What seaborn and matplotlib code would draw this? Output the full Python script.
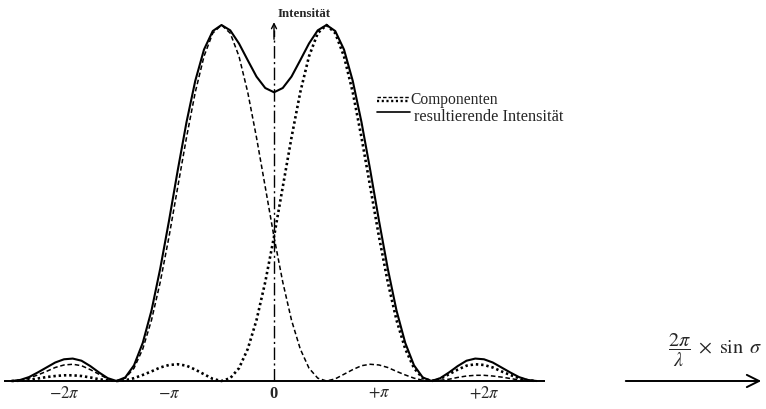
import numpy as np
import matplotlib
matplotlib.use("Agg")
import matplotlib.pyplot as plt
import seaborn as sns
from matplotlib.lines import Line2D

x_twelfths_pi = list(range(-30, 31))

comp_left = [0.000, 0.002, 0.008, 0.017, 0.027, 0.038, 0.045, 0.047, 0.043, 0.032,
             0.019, 0.006, 0.000, 0.008, 0.036, 0.090, 0.171, 0.278, 0.405, 0.545,
             0.684, 0.811, 0.912, 0.977, 1.000, 0.977, 0.912, 0.811, 0.684, 0.545,
             0.405, 0.278, 0.171, 0.090, 0.036, 0.008, 0.000, 0.006, 0.019, 0.032,
             0.043, 0.047, 0.045, 0.038, 0.027, 0.017, 0.008, 0.002, 0.000, 0.002,
             0.005, 0.010, 0.014, 0.016, 0.016, 0.014, 0.011, 0.007, 0.003, 0.001,
             0.000]

comp_right = [0.000, 0.001, 0.003, 0.007, 0.011, 0.014, 0.016, 0.016, 0.014, 0.010,
              0.005, 0.002, 0.000, 0.002, 0.008, 0.017, 0.027, 0.038, 0.045, 0.047,
              0.043, 0.032, 0.019, 0.006, 0.000, 0.008, 0.036, 0.090, 0.171, 0.278,
              0.405, 0.545, 0.684, 0.811, 0.912, 0.977, 1.000, 0.977, 0.912, 0.811,
              0.684, 0.545, 0.405, 0.278, 0.171, 0.090, 0.036, 0.008, 0.000, 0.006,
              0.019, 0.032, 0.043, 0.047, 0.045, 0.038, 0.027, 0.017, 0.008, 0.002,
              0.000]

resultant = [0.000, 0.003, 0.011, 0.024, 0.038, 0.052, 0.061, 0.063, 0.057, 0.042,
             0.024, 0.008, 0.000, 0.010, 0.044, 0.107, 0.198, 0.316, 0.450, 0.592,
             0.727, 0.843, 0.931, 0.983, 1.000, 0.985, 0.948, 0.901, 0.855, 0.823,
             0.811, 0.823, 0.855, 0.901, 0.948, 0.985, 1.000, 0.983, 0.931, 0.843,
             0.727, 0.592, 0.450, 0.316, 0.198, 0.107, 0.044, 0.010, 0.000, 0.008,
             0.024, 0.042, 0.057, 0.063, 0.061, 0.052, 0.038, 0.024, 0.011, 0.003,
             0.000]

tick_multiples = [-2, -1, 0, 1, 2]
tick_labels = [r"$-2\pi$", r"$-\pi$", "0", r"$+\pi$", r"$+2\pi$"]

# ---- style ----
sns.set_theme(style="white")
plt.rcParams["font.family"] = ["Liberation Serif", "DejaVu Serif"]
plt.rcParams["mathtext.fontset"] = "stix"

W, H = 766, 410
X0, PX_PI = 274.0, 105.0      # pixel of x=0, pixels per pi
Y0, PX_UNIT = 382.0, 356.0    # pixel of intensity 0, pixels per unit intensity

fig = plt.figure(figsize=(W / 100, H / 100), dpi=100)
ax = fig.add_axes([0, 0, 1, 1])
ax.set_xlim((0 - X0) / PX_PI * np.pi, (W - X0) / PX_PI * np.pi)
ax.set_ylim((Y0 - H) / PX_UNIT, Y0 / PX_UNIT)
ax.axis("off")

x = np.array(x_twelfths_pi) * np.pi / 12

sns.lineplot(x=x, y=comp_left, ax=ax, color="black", lw=1.1,
             linestyle=(0, (3, 1.8)), legend=False)
sns.lineplot(x=x, y=comp_right, ax=ax, color="black", lw=1.9,
             linestyle=(0, (0.9, 1.1)), legend=False)
sns.lineplot(x=x, y=resultant, ax=ax, color="black", lw=1.5, legend=False)

# baseline
ax.plot([-2.57 * np.pi, 2.58 * np.pi], [0, 0], color="black", lw=1.4,
        solid_capstyle="butt")

# vertical axis (dash-dot) with arrow
ax.plot([0, 0], [0, 0.985], color="black", lw=1.0, linestyle=(0, (9, 2.5, 1.5, 2.5)))
ax.annotate("", xy=(0, 1.008), xytext=(0, 0.96),
            arrowprops=dict(arrowstyle="->", lw=1.0, color="black",
                            mutation_scale=9, shrinkA=0, shrinkB=0))
ax.text(0.1, 1.035, "Intensität", fontsize=9.3, fontweight="bold",
        ha="left", va="center")

# tick labels
for m, lab in zip(tick_multiples, tick_labels):
    ax.text(m * np.pi, -0.033, lab, fontsize=12, fontweight="bold",
            ha="center", va="center")


def fx(px):
    return px / W


def fy(py):
    return 1 - py / H


# legend drawn by hand
fig.add_artist(Line2D([fx(377), fx(409)], [fy(98), fy(98)], color="black",
                      lw=1.0, linestyle=(0, (2.5, 1.5))))
fig.add_artist(Line2D([fx(377), fx(409)], [fy(102), fy(102)], color="black",
                      lw=1.7, linestyle=(0, (0.9, 1.1))))
fig.add_artist(Line2D([fx(377), fx(410)], [fy(113), fy(113)], color="black",
                      lw=1.2))
fig.text(fx(410), fy(100), "Componenten", fontsize=11.2, ha="left", va="center")
fig.text(fx(414), fy(117), "resultierende Intensität", fontsize=11.8,
         ha="left", va="center")

# right-hand x-axis label and arrow
fig.text(fx(715), fy(350), r"$\dfrac{2\pi}{\lambda}\ \times\ \sin\ \sigma$",
         fontsize=14.5, ha="center", va="center")
fig.add_artist(matplotlib.patches.FancyArrowPatch(
    (fx(623), fy(382)), (fx(764), fy(382)), transform=fig.transFigure,
    arrowstyle="->", mutation_scale=22, lw=1.4, color="black"))

fig.savefig("out.png", dpi=100)
